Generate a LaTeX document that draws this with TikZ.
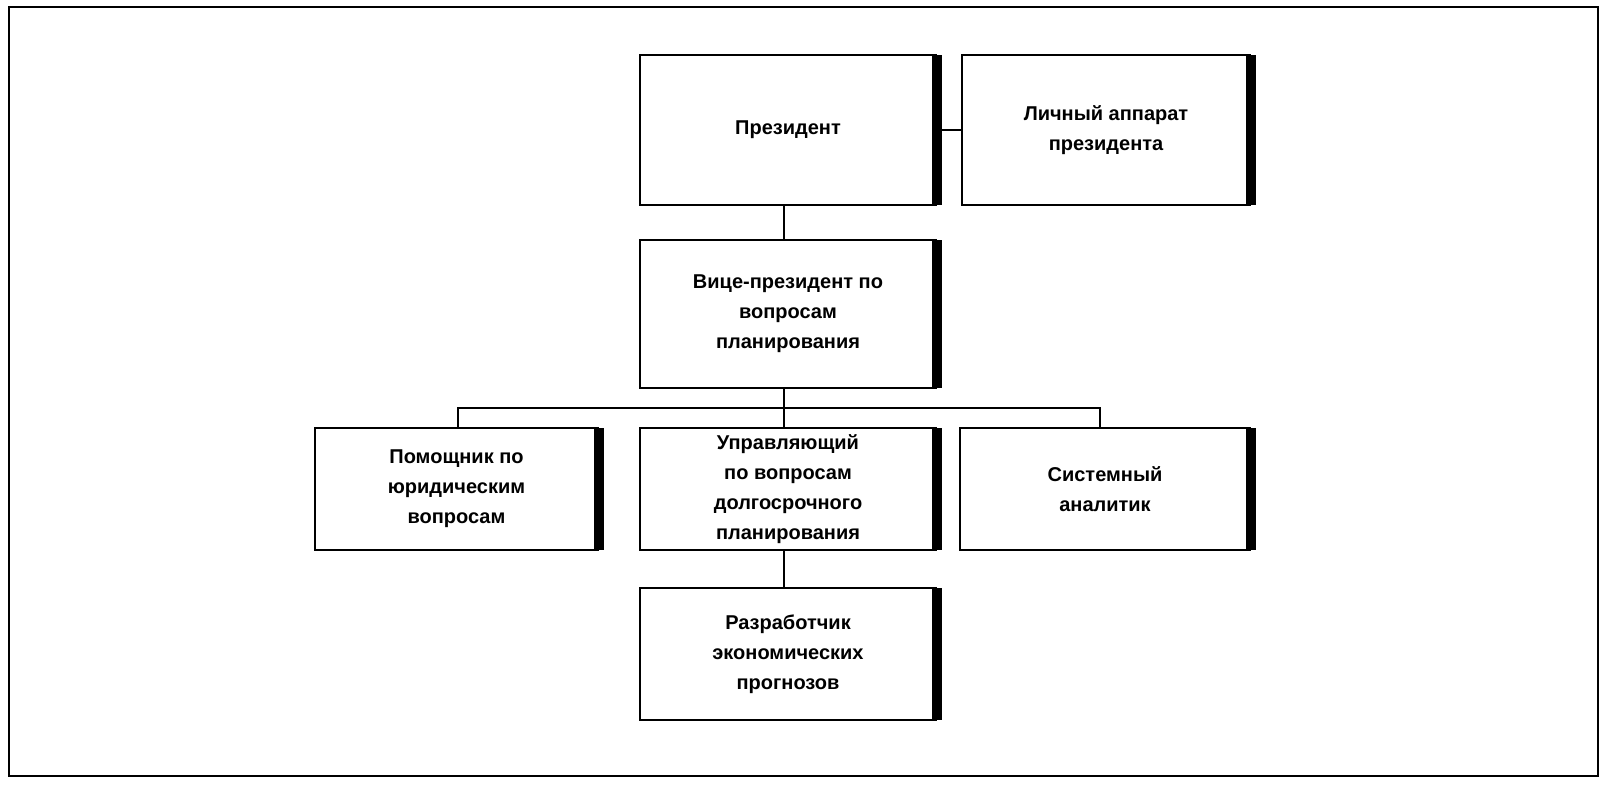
\documentclass[tikz,border=0pt]{standalone}
\usepackage{fontspec}
\setmainfont{Liberation Sans}
\begin{document}
\begin{tikzpicture}[x=1pt,y=-1pt,
  box/.style={draw,line width=2.5pt,minimum width=#1,align=center,font=\bfseries\fontsize{20}{30}\selectfont,inner sep=0pt},
  ln/.style={line width=2.2pt}]
\useasboundingbox (0,0) rectangle (1606,792);
\draw[line width=2.5pt] (9,7) rectangle (1598,776);
\newcommand\bx[6]{% name, x1,y1,x2,y2, text
  \node[box=#4pt-#2pt,minimum height=#5pt-#3pt] (#1) at ({(#2+#4)/2},{(#3+#5)/2}) {#6};
  \fill (#4-4,#3) rectangle (#4+6,#5);}
\bx{pres}{640}{55}{936}{205}{Президент}
\bx{lich}{962}{55}{1250}{205}{Личный аппарат\\президента}
\bx{vice}{640}{240}{936}{388}{Вице-президент по\\вопросам\\планирования}
\bx{pom}{315}{428}{598}{550}{Помощник по\\юридическим\\вопросам}
\bx{upr}{640}{428}{936}{550}{Управляющий\\по вопросам\\долгосрочного\\планирования}
\bx{sys}{960}{428}{1250}{550}{Системный\\аналитик}
\bx{raz}{640}{588}{936}{720}{Разработчик\\экономических\\прогнозов}
\coordinate (bus) at (784,408);
\draw[ln] (pres.east) -- (lich.west);
\draw[ln] (784,205) -- (784,240);
\draw[ln] (784,388) -- (bus);
\draw[ln] (458,428) |- (bus) -| (1100,428);
\draw[ln] (784,550) -- (784,588);
\draw[ln] (784,408) -- (784,428);
\end{tikzpicture}
\end{document}
